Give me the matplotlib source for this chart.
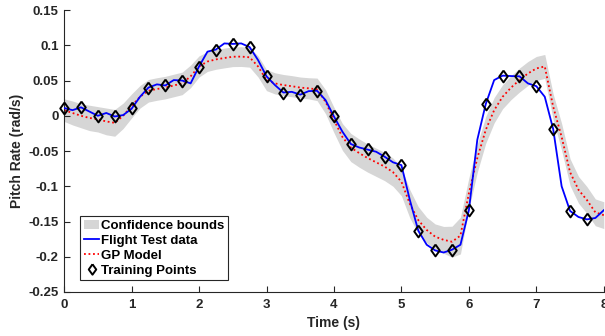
import numpy as np
import matplotlib
matplotlib.use("Agg")
import matplotlib.pyplot as plt
from matplotlib.patches import Patch
from matplotlib.lines import Line2D

plt.rcParams['font.family'] = ['Liberation Sans', 'DejaVu Sans']
plt.rcParams['font.weight'] = 'bold'

# time grid (s) for flight data / GP model
t = np.linspace(0, 8, 65)

flight = [0.011, 0.008, 0.012, 0.006, 0.000, 0.004, -0.001, 0.001,
          0.010, 0.027, 0.040, 0.0446, 0.043, 0.0507, 0.050, 0.046,
          0.070, 0.091, 0.094, 0.1027, 0.102, 0.1027, 0.0975, 0.079,
          0.056, 0.0436, 0.033, 0.034, 0.030, 0.035, 0.0355, 0.0223,
          -0.001, -0.0225, -0.040, -0.045, -0.048, -0.051, -0.058, -0.066,
          -0.070, -0.1195, -0.163, -0.183, -0.191, -0.194, -0.190, -0.183,
          -0.134, -0.034, 0.0166, 0.0507, 0.057, 0.0564, 0.056, 0.046,
          0.042, 0.027, -0.019, -0.100, -0.135, -0.1436, -0.147, -0.145,
          -0.134]

gp_mean = [0.008, 0.004, 0.000, -0.003, -0.005, -0.008, -0.010, 0.000,
           0.014, 0.027, 0.0355, 0.038, 0.040, 0.043, 0.046, 0.056,
           0.070, 0.077, 0.080, 0.082, 0.0838, 0.084, 0.083, 0.070,
           0.0507, 0.046, 0.0436, 0.042, 0.040, 0.039, 0.0375, 0.020,
           -0.006, -0.030, -0.045, -0.053, -0.060, -0.066, -0.072, -0.080,
           -0.0935, -0.125, -0.148, -0.162, -0.1715, -0.176, -0.1787, -0.170,
           -0.110, -0.060, -0.020, 0.008, 0.027, 0.040, 0.0507, 0.060,
           0.0672, 0.070, 0.0128, -0.030, -0.080, -0.105, -0.1195, -0.137,
           -0.141]

gp_half = [0.016, 0.017, 0.017, 0.018, 0.018, 0.019, 0.019, 0.018,
           0.017, 0.016, 0.016, 0.016, 0.016, 0.016, 0.016, 0.016,
           0.015, 0.014, 0.014, 0.014, 0.014, 0.014, 0.014, 0.015,
           0.015, 0.015, 0.015, 0.015, 0.015, 0.015, 0.016, 0.017,
           0.018, 0.019, 0.020, 0.020, 0.020, 0.020, 0.020, 0.020,
           0.020, 0.020, 0.019, 0.018, 0.018, 0.019, 0.022, 0.026,
           0.022, 0.020, 0.019, 0.018, 0.017, 0.017, 0.017, 0.017,
           0.017, 0.017, 0.018, 0.019, 0.019, 0.019, 0.019, 0.019,
           0.019]

# training points
t_train = [0.0, 0.25, 0.5, 0.75, 1.0, 1.25, 1.5, 1.75, 2.0, 2.25, 2.5, 2.75,
           3.0, 3.25, 3.5, 3.75, 4.0, 4.25, 4.5, 4.75, 5.0, 5.25, 5.5, 5.75,
           6.0, 6.25, 6.5, 6.75, 7.0, 7.25, 7.5, 7.75]
y_train = [0.0114, 0.012, -0.0004, 0.0, 0.0105, 0.040, 0.043, 0.050,
           0.0696, 0.094, 0.102, 0.0975, 0.0564, 0.033, 0.030, 0.0355,
           -0.001, -0.040, -0.0476, -0.058, -0.070, -0.163, -0.191, -0.190,
           -0.134, 0.0166, 0.057, 0.056, 0.042, -0.019, -0.135, -0.147]

x_ticks = [0, 1, 2, 3, 4, 5, 6, 7, 8]
y_ticks = [-0.25, -0.2, -0.15, -0.1, -0.05, 0, 0.05, 0.1, 0.15]
y_ticklabels = ['-0.25', '-0.2', '-0.15', '-0.1', '-0.05', '0', '0.05', '0.1', '0.15']

band_color = '#d6d6d6'
ink = '#262626'
diamond = [(0, 1), (0.72, 0), (0, -1), (-0.72, 0), (0, 1)]

fig = plt.figure(figsize=(6.05, 3.36), dpi=100)
ax = fig.add_axes([0.106, 0.131, 0.892, 0.839])

mean = np.array(gp_mean)
half = np.array(gp_half)
ax.fill_between(t, mean - half, mean + half, color=band_color, linewidth=0, zorder=1)
ax.plot(t, flight, color='#0000ff', linewidth=1.3, zorder=3)
ax.plot(t, gp_mean, color='#ff0000', linestyle=(0, (1, 1.5)), linewidth=1.3, zorder=2)
ax.plot(t_train, y_train, linestyle='none', marker=diamond, markersize=8.5,
        markerfacecolor='none', markeredgecolor='black', markeredgewidth=1.4,
        zorder=4, clip_on=False)

ax.set_xlim(0, 8)
ax.set_ylim(-0.25, 0.15)
ax.set_xticks(x_ticks)
ax.set_yticks(y_ticks)
ax.set_yticklabels(y_ticklabels)
ax.tick_params(direction='in', length=4, width=0.8, labelsize=9.5, colors=ink,
               labelcolor=ink)
ax.tick_params(axis='x', pad=5)
ax.tick_params(axis='y', pad=4)
for lab in ax.get_xticklabels() + ax.get_yticklabels():
    lab.set_fontweight('bold')
ax.spines['top'].set_visible(False)
ax.spines['right'].set_visible(False)
ax.spines['left'].set_color(ink)
ax.spines['bottom'].set_color(ink)
ax.set_xlabel('Time (s)', fontsize=10, fontweight='bold', color=ink, labelpad=4)
ax.set_ylabel('Pitch Rate (rad/s)', fontsize=10, fontweight='bold', color=ink, labelpad=3)

handles = [Patch(facecolor=band_color, edgecolor='none'),
           Line2D([], [], color='#0000ff', linewidth=1.3),
           Line2D([], [], color='#ff0000', linestyle=(0, (1, 1.5)), linewidth=1.3),
           Line2D([], [], linestyle='none', marker=diamond, markersize=7.5,
                  markerfacecolor='none', markeredgecolor='black', markeredgewidth=1.4)]
labels = ['Confidence bounds', 'Flight Test data', 'GP Model', 'Training Points']
leg = ax.legend(handles, labels, loc='lower left', bbox_to_anchor=(0.03, 0.043),
                fancybox=False, framealpha=1, edgecolor=ink,
                prop={'size': 9.5, 'weight': 'bold'}, handlelength=1.2,
                handletextpad=0.15, labelspacing=0.2, borderpad=0.25, borderaxespad=0)
leg.get_frame().set_linewidth(0.8)

fig.savefig('out.png', dpi=100)
